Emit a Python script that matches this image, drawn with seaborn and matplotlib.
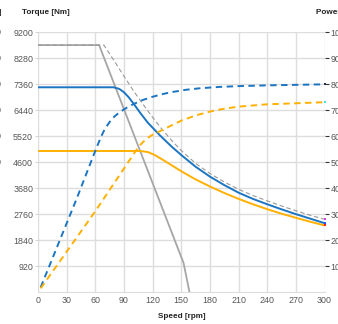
import numpy as np
import pandas as pd
import seaborn as sns
import matplotlib.pyplot as plt

# torque curves [Nm]
limit_n = [0, 64, 152.4, 155.3, 158.6]
limit_T = [8750, 8750, 1030, 550, 0]

peak_n = [0, 69, 80, 90, 100, 110, 120, 130, 140, 150, 165, 180, 195, 210, 225, 240, 255, 270, 285, 300]
peak_T = [8750, 8750, 8180, 7650, 7130, 6650, 6190, 5760, 5370, 5010, 4560, 4200, 3900, 3640, 3420, 3230, 3050, 2880, 2720, 2580]

blue_n = [0, 79, 85, 90, 95, 100, 107, 115, 128, 140, 150, 165, 180, 195, 210, 225, 240, 255, 270, 285, 300]
blue_T = [7255, 7255, 7200, 7080, 6900, 6680, 6350, 6000, 5540, 5150, 4855, 4440, 4090, 3790, 3520, 3300, 3110, 2930, 2760, 2600, 2440]

orng_n = [0, 107, 115, 122, 130, 140, 150, 165, 180, 195, 210, 225, 240, 255, 270, 285, 300]
orng_T = [4997, 4997, 4960, 4860, 4700, 4490, 4280, 3990, 3740, 3510, 3300, 3110, 2935, 2775, 2630, 2490, 2360]

# power curves [kW]
bpow_n = [2.8, 40, 58, 62, 66, 70, 75, 80, 86, 93, 100, 110, 120, 130, 140, 155, 170, 190, 210, 240, 270, 300]
bpow_P = [18, 355, 525, 562, 598, 628, 655, 676, 694, 710, 724, 740, 752, 762, 770, 779, 785, 790, 793, 796, 798, 800]

opow_n = [2.8, 60, 105, 110, 115, 120, 128, 140, 150, 165, 180, 195, 210, 240, 270, 300]
opow_P = [14, 311, 558, 578, 594, 606, 620, 642, 660, 680, 695, 706, 714, 723, 727, 731]

x_ticks = list(range(0, 301, 30))
t_ticks = list(range(920, 9201, 920))
p_ticks = list(range(100, 1001, 100))

blue = "#1b75c2"
orange = "#ffb000"
gray = "#a6a6a6"

sns.set_style("white")
plt.rcParams['font.family'] = ['Liberation Sans', 'DejaVu Sans']

fig = plt.figure(figsize=(3.38, 3.24), dpi=100)
ax = fig.add_axes([38/338, 1 - 292/324, (324.5 - 38)/338, (292 - 32.4)/324])
ax2 = ax.twinx()

sns.lineplot(x=limit_n, y=limit_T, ax=ax, color=gray, lw=1.3, estimator=None)
sns.lineplot(x=peak_n, y=peak_T, ax=ax, color="#9a9a9a", lw=0.8,
             linestyle=(0, (4, 2.5)), estimator=None)
sns.lineplot(x=orng_n, y=orng_T, ax=ax, color=orange, lw=1.4, estimator=None)
sns.lineplot(x=blue_n, y=blue_T, ax=ax, color=blue, lw=1.4, estimator=None)
sns.lineplot(x=bpow_n, y=bpow_P, ax=ax2, color=blue, lw=1.4,
             linestyle=(0, (3.3, 2.3)), estimator=None)
sns.lineplot(x=opow_n, y=opow_P, ax=ax2, color=orange, lw=1.4,
             linestyle=(0, (3.3, 2.3)), estimator=None)

# small end markers
ax.plot([300], [peak_T[-1]], 's', color="#e040e0", ms=2, mew=0, clip_on=False)
ax.plot([300], [blue_T[-1]], 's', color="#3050ff", ms=2, mew=0, clip_on=False)
ax.plot([300], [orng_T[-1]], 's', color="#ff2020", ms=2, mew=0, clip_on=False)
ax2.plot([300], [bpow_P[-1]], 's', color="#203050", ms=2, mew=0, clip_on=False)
ax2.plot([300], [opow_P[-1]], 's', color="#40e0e0", ms=2, mew=0, clip_on=False)

ax.set_xlim(0, 300)
ax.set_ylim(0, 9200)
ax2.set_ylim(0, 1000)
ax.set_xticks(x_ticks)
ax.set_yticks(t_ticks)
ax2.set_yticks(p_ticks)

ax.grid(True, color="#dddddd", lw=1.0)
ax.set_axisbelow(True)
for s in ["top", "right", "left"]:
    ax.spines[s].set_visible(False)
    ax2.spines[s].set_visible(False)
ax.spines["bottom"].set_color("#dddddd")
ax2.spines["bottom"].set_visible(False)

ax.tick_params(axis="x", length=0, pad=3, labelsize=6.4, labelcolor="#555555")
ax.tick_params(axis="y", length=2, width=0.6, color="#cccccc", pad=1.5,
               labelsize=6.4, labelcolor="#555555")
ax2.tick_params(axis="y", length=3, width=0.8, color="#333333", pad=1.5,
                labelsize=6.4, labelcolor="#555555")

fig.text(22/338, 1 - 13/324, "Torque [Nm]", fontsize=5.9, fontweight="bold",
         color="#222222", va="center", ha="left")
fig.text(316/338, 1 - 13/324, "Power [kW]", fontsize=5.9, fontweight="bold",
         color="#222222", va="center", ha="left")
fig.text(182/338, 1 - 316/324, "Speed [rpm]", fontsize=5.9, fontweight="bold",
         color="#222222", va="center", ha="center")

# cut-off axis at the far left edge
fig.text(2/338, 1 - 13/324, "[A]", fontsize=5.9, fontweight="bold",
         color="#222222", va="center", ha="right")
for i, lab in enumerate(["500", "450", "400", "350", "300", "250"]):
    fig.text(1.5/338, 1 - (32.4 + i * 25.95)/324, lab, fontsize=6.4,
             color="#555555", va="center", ha="right")

plt.savefig("out.png", dpi=100)
